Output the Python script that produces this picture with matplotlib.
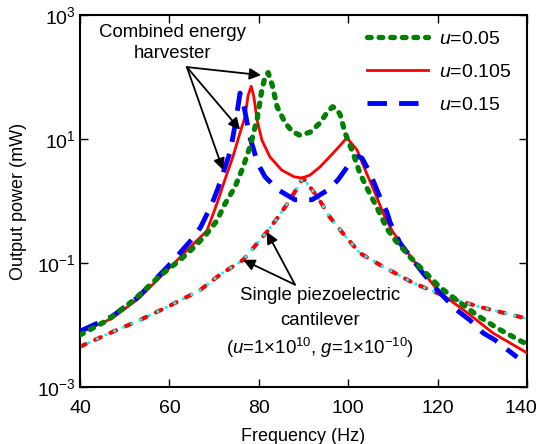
import numpy as np
import matplotlib
matplotlib.use('Agg')
import matplotlib.pyplot as plt
import matplotlib.transforms as mtransforms

plt.rcParams['font.family'] = ['Liberation Sans', 'DejaVu Sans']
plt.rcParams['mathtext.fontset'] = 'custom'
plt.rcParams['mathtext.rm'] = 'Liberation Sans'
plt.rcParams['mathtext.it'] = 'Liberation Sans:italic'

# ============= data (frequency in Hz, output power in mW) =============

freq_u005 = [40, 46, 52, 58, 62.4, 65, 68, 70.6, 72.4, 74.7, 76.5, 78, 79.6, 80.7, 81.4, 82.1, 83,
             84.1, 85.9, 87.5, 89.2, 91.5, 93.7, 95.2, 96.5, 97.5, 98.2, 99.3, 101.1, 102.6, 104.4,
             106.4, 108.7, 110.5, 113.8, 117.2, 120.5, 124.3, 128.8, 133.3, 138.9, 140]
pow_u005 = 10 ** np.array([-2.16, -1.93, -1.6, -1.2, -0.95, -0.78, -0.56, -0.32, -0.05, 0.23, 0.55,
                           0.87, 1.31, 1.8, 2.0, 2.07, 1.87, 1.52, 1.26, 1.12, 1.06, 1.11, 1.26,
                           1.42, 1.52, 1.48, 1.39, 1.1, 0.77, 0.45, 0.18, -0.1, -0.45, -0.63, -0.9,
                           -1.15, -1.39, -1.6, -1.84, -2.05, -2.27, -2.3])

freq_u0105 = [40, 47, 53, 60, 65, 68.4, 70.6, 72.4, 74.2, 75.8, 76.9, 77.6, 78.3, 78.9, 79.6, 80.7,
              82.5, 85.1, 87.9, 89.7, 91.5, 93.7, 96.6, 98.5, 99.7, 102, 103.8, 106, 108.2, 110,
              114.5, 120.5, 126.6, 132.4, 140]
pow_u0105 = 10 ** np.array([-2.12, -1.9, -1.58, -1.08, -0.72, -0.48, -0.05, 0.34, 0.71, 1.1, 1.35,
                            1.7, 1.85, 1.68, 1.31, 0.98, 0.71, 0.5, 0.39, 0.37, 0.42, 0.55, 0.77,
                            0.92, 1.02, 0.82, 0.5, 0.13, -0.26, -0.5, -0.95, -1.48, -1.8, -2.13,
                            -2.45])

freq_u015 = [40, 47, 53, 60, 65, 67, 69.5, 70.9, 72, 73.6, 74.5, 75.3, 75.8, 76.7, 78, 79.8, 81.4,
             84.3, 88.1, 91.9, 95.5, 97.7, 100.4, 102.2, 103.1, 104.9, 106.7, 108.7, 109.4, 111.6,
             116.7, 120.5, 124.3, 127.2, 130.2, 132.8, 137.8]
pow_u015 = 10 ** np.array([-2.1, -1.87, -1.55, -1.03, -0.62, -0.42, -0.05, 0.21, 0.45, 0.79, 1.15,
                           1.5, 1.74, 1.52, 1.03, 0.6, 0.39, 0.18, 0.02, 0.02, 0.18, 0.34, 0.61,
                           0.72, 0.69, 0.45, 0.13, -0.19, -0.35, -0.68, -1.16, -1.48, -1.76, -1.92,
                           -2.13, -2.24, -2.52])

freq_single = [40, 46.7, 53.4, 59.5, 66.8, 71.3, 76.5, 81.8, 84.3, 87, 89.9, 93.2, 95.9, 98.8,
               102.6, 107.1, 114.5, 122.1, 129.5, 139.6, 140]
pow_single = 10 ** np.array([-2.35, -2.13, -1.92, -1.71, -1.44, -1.19, -0.95, -0.5, -0.26, 0.02, 0.37,
                             0.06, -0.26, -0.52, -0.84, -1.03, -1.32, -1.55, -1.71, -1.89, -1.9])

x_ticks = [40, 60, 80, 100, 120, 140]
y_ticks = [1e-3, 1e-1, 1e1, 1e3]
y_ticklabels = [r'$\mathregular{10^{-3}}$', r'$\mathregular{10^{-1}}$',
                r'$\mathregular{10^{1}}$', r'$\mathregular{10^{3}}$']

# ============= plot =============

fig = plt.figure(figsize=(5.38, 4.44), dpi=100)
ax = fig.add_axes([80 / 538, 1 - 387 / 444, 447 / 538, 372 / 444])

# single piezoelectric cantilever (red and cyan dots on top of each other)
ax.plot(freq_single, pow_single, color='red', lw=3, linestyle=(0, (1.5, 2.5)), dash_capstyle='round')
ax.plot(freq_single, pow_single, color='cyan', lw=2.2, linestyle=(0, (0.1, 3)), dash_capstyle='round')

ax.plot(freq_u0105, pow_u0105, color='red', lw=2, label=r'$\mathit{u}$=0.105', zorder=3)
ax.plot(freq_u015, pow_u015, color='blue', lw=3.5, linestyle=(0, (4, 2.5)), label=r'$\mathit{u}$=0.15',
        zorder=3)
ax.plot(freq_u005, pow_u005, color='green', lw=3.8, linestyle=(0, (0.7, 1.5)), dash_capstyle='round',
        label=r'$\mathit{u}$=0.05', zorder=4)

ax.set_yscale('log')
ax.set_xlim(40, 140)
ax.set_ylim(1e-3, 1e3)
ax.set_xticks(x_ticks)
ax.set_yticks(y_ticks)
ax.set_yticklabels(y_ticklabels)
ax.minorticks_off()
ax.tick_params(direction='in', length=6, width=1, top=True, right=True, labelsize=14)
ax.tick_params(axis='x', pad=9)
ax.tick_params(axis='y', pad=3)
for s in ax.spines.values():
    s.set_linewidth(1.5)

# keep the last x tick label inside the figure
lab = ax.get_xticklabels()[-1]
lab.set_transform(lab.get_transform() + mtransforms.ScaledTranslation(-6 / 100, 0, fig.dpi_scale_trans))

ax.set_xlabel('Frequency (Hz)', fontsize=13, labelpad=8)
ax.set_ylabel('Output power (mW)', fontsize=13, labelpad=7)

h, l = ax.get_legend_handles_labels()
order = [2, 0, 1]
ax.legend([h[i] for i in order], [l[i] for i in order], loc='upper right', frameon=False,
          fontsize=14, handlelength=3.1, borderaxespad=0.4, labelspacing=0.78, handletextpad=0.6)

# annotations
ax.text(0.208, 0.925, 'Combined energy\nharvester', transform=ax.transAxes, ha='center', va='center',
        fontsize=13.4, linespacing=1.25)
arr = dict(arrowstyle='-|>', color='black', lw=1.3, mutation_scale=17, shrinkA=0, shrinkB=0)
for xy in [(80.5, 10 ** 2.03), (75.8, 10 ** 1.15), (72.0, 10 ** 0.5)]:
    ax.annotate('', xy=xy, xytext=(63.9, 10 ** 2.16), arrowprops=arr)

ax.text(0.537, 0.247, 'Single piezoelectric', transform=ax.transAxes, ha='center',
        va='center', fontsize=13.4)
ax.text(0.537, 0.180, 'cantilever', transform=ax.transAxes, ha='center',
        va='center', fontsize=13.4)
ax.text(0.537, 0.105, r'($\mathit{u}$=1$\times$10$^{10}$, $\mathit{g}$=1$\times$10$^{-10}$)',
        transform=ax.transAxes, ha='center', va='center', fontsize=13.4)
for xy in [(76.5, 10 ** -0.95), (81.8, 10 ** -0.5)]:
    ax.annotate('', xy=xy, xytext=(88.1, 10 ** -1.35), arrowprops=arr)

fig.savefig('out.png', dpi=100)
